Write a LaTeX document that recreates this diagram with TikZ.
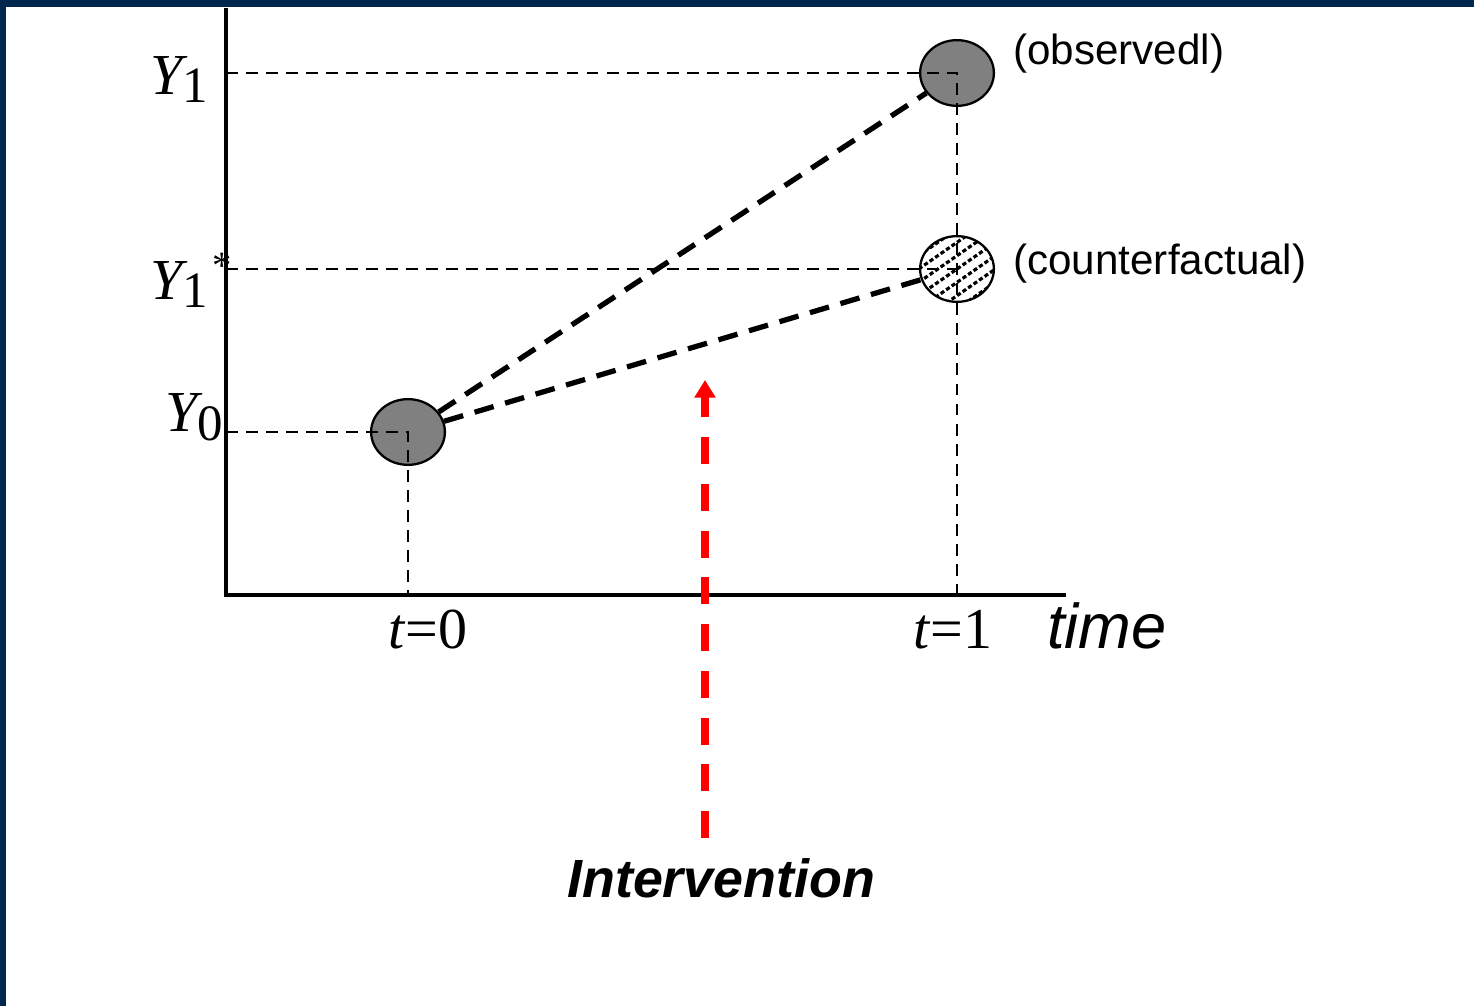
\documentclass[tikz,border=0pt]{standalone}
\usepackage{fontspec}
\setmainfont{Liberation Serif}
\newfontfamily\arialfont{Liberation Sans}
\usetikzlibrary{shapes.geometric,arrows.meta}
\definecolor{navy}{RGB}{0,40,78}
\definecolor{dotgray}{RGB}{128,128,128}
\begin{document}
\begin{tikzpicture}[x=0.02cm,y=-0.02cm,
  axisline/.style={line width=2pt},
  guide/.style={line width=1.2pt,dash pattern=on 6.8pt off 4.6pt},
  trend/.style={line width=3pt,dash pattern=on 11.3pt off 6.8pt},
  interv/.style={red,line width=4pt,dash pattern=on 15.3pt off 11.3pt,-{Triangle[width=11.5pt,length=10pt]}},
  blob/.style={ellipse,draw,line width=1.3pt,minimum width=42pt,minimum height=37.4pt,inner sep=0pt},
  hatchline/.style={line width=1.8pt,dash pattern=on 2.4pt off 1.4pt},
  mathlab/.style={inner sep=0pt,font=\fontsize{33}{36}\selectfont},
  sanslab/.style={inner sep=0pt,font=\arialfont\fontsize{24}{28}\selectfont}
]
\useasboundingbox (0,0) rectangle (1474,1006);
\fill[navy] (0,0) rectangle (1474,7);
\fill[navy] (0,0) rectangle (6,1006);

% axes
\coordinate (ytop) at (226,8);
\coordinate (origin) at (226,595);
\coordinate (xend) at (1066,595);
\draw[axisline] (ytop) -- (origin) -- (xend);

% points
\node[blob,fill=dotgray] (p0) at (408,432) {};
\node[blob,fill=dotgray] (p1) at (957,73) {};
\node[blob,fill=white,
  path picture={\begin{scope}[shift={(path picture bounding box.center)}]
    \foreach \i in {-6,...,6}{
      \draw[hatchline] ({\i*5.5-60*0.82},{\i*9.5+60*0.57}) -- ++({120*0.82},{-120*0.57});
    }
  \end{scope}}] (pc) at (957,269) {};

% guide lines
\coordinate (y1) at (226,73);
\coordinate (y1s) at (226,269);
\coordinate (y0) at (226,432);
\coordinate (t0) at (408,595);
\coordinate (t1) at (957,595);
\draw[guide] (y1) -- (p1.center) -- (t1);
\draw[guide] (y1s) -- (pc.center);
\draw[guide] (y0) -- (p0.center) -- (t0);

% trend lines
\draw[trend] (p0) -- (p1);
\draw[trend] (p0) -- (pc);

% intervention arrow
\coordinate (ia) at (705,838);
\coordinate (ib) at (705,380);
\draw[interv] (ia) -- (ib);

% labels
\node[mathlab,anchor=base east] (ly1) at (208,95) {\textit{Y}\kern-3pt\raisebox{-4.5pt}{\fontsize{29}{30}\selectfont 1}};
\node[mathlab,anchor=base east] (ly1s) at (208,300) {\textit{Y}\kern-3pt\raisebox{-4.5pt}{\fontsize{29}{30}\selectfont 1}};
\node[inner sep=0pt,anchor=base,font=\fontsize{22}{24}\selectfont] (lstar) at (222,279) {*};
\node[mathlab,anchor=base east] (ly0) at (223,432) {\textit{Y}\kern-3pt\raisebox{-5pt}{\fontsize{29}{30}\selectfont 0}};
\node[mathlab,anchor=base,font=\fontsize{33}{36}\selectfont] (lt0) at (428,648) {\textit{t}=0};
\node[mathlab,anchor=base,font=\fontsize{33}{36}\selectfont] (lt1) at (953,648) {\textit{t}=1};
\node[inner sep=0pt,anchor=base west,font=\arialfont\itshape\fontsize{36}{40}\selectfont] (ltime) at (1047,648) {time};
\node[sanslab,anchor=base west] (lobs) at (1013,65) {(observedl)};
\node[sanslab,anchor=base west] (lcf) at (1013,275) {(counterfactual)};
\node[inner sep=0pt,anchor=base west,font=\arialfont\bfseries\itshape\fontsize{30.6}{34}\selectfont] (lint) at (567,897) {Intervention};
\end{tikzpicture}
\end{document}
